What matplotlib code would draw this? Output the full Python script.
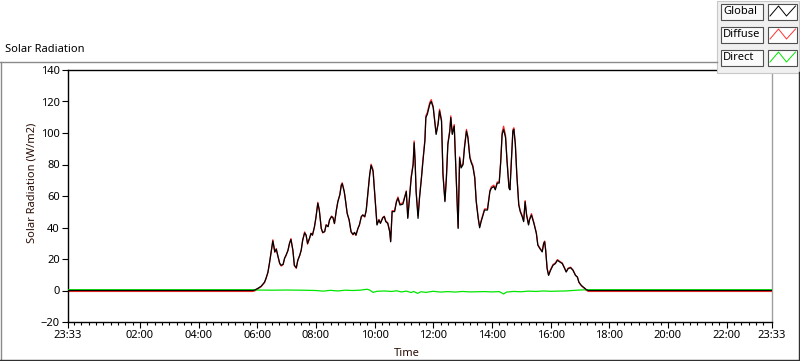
import matplotlib
matplotlib.use('Agg')
import matplotlib.pyplot as plt
from matplotlib.patches import Rectangle
import numpy as np

plt.rcParams['font.family'] = ['Noto Sans', 'DejaVu Sans']

# record runs from 23:33 the previous evening to 23:33
t_start = -27 / 60.0
t_end = 23 + 33 / 60.0

# daytime samples (HH:MM)
times = [
    "05:51", "05:55", "06:02", "06:08", "06:15", "06:18", "06:22", "06:25",
    "06:29", "06:32", "06:36", "06:39", "06:42", "06:46", "06:49", "06:53",
    "06:56", "06:59", "07:03", "07:06", "07:09", "07:13", "07:16", "07:20",
    "07:23", "07:27", "07:30", "07:33", "07:37", "07:40", "07:43", "07:47",
    "07:50", "07:53", "07:57", "08:00", "08:04", "08:07", "08:11", "08:14",
    "08:18", "08:21", "08:25", "08:28", "08:32", "08:35", "08:38", "08:42",
    "08:45", "08:49", "08:52", "08:54", "08:58", "09:00", "09:04", "09:08",
    "09:12", "09:16", "09:19", "09:22", "09:26", "09:29", "09:33", "09:36",
    "09:40", "09:43", "09:46", "09:50", "09:53", "09:57", "10:00", "10:02",
    "10:05", "10:09", "10:12", "10:17", "10:20", "10:23", "10:27", "10:31",
    "10:33", "10:36", "10:41", "10:45", "10:48", "10:52", "10:58", "11:05",
    "11:08", "11:12", "11:15", "11:19", "11:21", "11:23", "11:25", "11:29",
    "11:32", "11:36", "11:39", "11:43", "11:45", "11:48", "11:53", "11:56",
    "12:00", "12:03", "12:06", "12:10", "12:13", "12:17", "12:20", "12:24",
    "12:27", "12:30", "12:34", "12:36", "12:39", "12:43", "12:47", "12:51",
    "12:54", "12:57", "13:01", "13:04", "13:08", "13:11", "13:15", "13:18",
    "13:21", "13:25", "13:28", "13:32", "13:35", "13:38", "13:42", "13:45",
    "13:51", "13:56", "13:59", "14:04", "14:07", "14:11", "14:15", "14:18",
    "14:21", "14:24", "14:28", "14:31", "14:35", "14:37", "14:40", "14:43",
    "14:45", "14:48", "14:51", "14:55", "14:58", "15:02", "15:05", "15:08",
    "15:11", "15:15", "15:17", "15:21", "15:26", "15:31", "15:34", "15:38",
    "15:43", "15:46", "15:48", "15:50", "15:53", "15:56", "16:00", "16:05",
    "16:10", "16:14", "16:19", "16:24", "16:29", "16:32", "16:36", "16:41",
    "16:46", "16:51", "16:55", "16:58", "17:03", "17:09", "17:13", "17:17",
]

global_rad = [
    0.0, 0.3, 1.5, 2.7, 5.3, 7.7, 11.7, 17.3,
    25.6, 31.5, 24.5, 26.2, 22.4, 17.3, 16.0, 16.6,
    20.5, 22.4, 25.6, 29.9, 32.4, 25.6, 16.0, 14.5,
    19.2, 22.4, 25.6, 32.0, 36.6, 35.2, 29.9, 33.2,
    36.2, 35.2, 40.3, 46.0, 55.4, 51.1, 39.4, 36.9,
    37.3, 41.6, 40.5, 44.8, 46.9, 46.2, 42.6, 51.1,
    56.4, 60.7, 66.7, 67.8, 62.8, 58.6, 49.0, 44.8,
    37.3, 35.6, 36.9, 35.2, 39.4, 41.6, 46.9, 47.9,
    46.9, 51.1, 60.7, 73.5, 79.5, 75.6, 62.8, 54.3,
    41.6, 44.8, 42.6, 46.2, 46.9, 43.7, 42.6, 37.3,
    30.9, 50.1, 50.1, 56.4, 58.6, 54.3, 54.8, 62.8,
    45.8, 60.7, 71.4, 79.9, 93.8, 82.0, 62.8, 45.8,
    58.6, 71.4, 82.0, 94.8, 109.8, 111.9, 118.3, 120.0,
    116.2, 107.6, 99.1, 105.5, 114.0, 107.6, 73.5, 56.4,
    71.4, 92.7, 101.2, 109.8, 99.1, 104.4, 71.4, 39.4,
    84.2, 77.8, 79.9, 90.6, 101.2, 97.0, 84.2, 81.0,
    78.8, 71.4, 56.4, 45.8, 39.8, 43.7, 47.9, 51.1,
    51.1, 62.8, 65.0, 66.0, 63.9, 68.2, 68.2, 81.0,
    99.1, 102.3, 97.0, 82.0, 65.0, 63.9, 82.0, 101.2,
    102.3, 92.7, 73.5, 54.3, 50.1, 46.9, 43.7, 56.4,
    47.9, 41.6, 44.8, 47.9, 42.6, 36.2, 28.8, 26.7,
    24.5, 29.9, 30.9, 25.6, 13.9, 9.6, 12.8, 16.0,
    17.1, 19.2, 18.1, 17.1, 13.9, 11.7, 13.9, 14.5,
    12.8, 9.6, 8.5, 5.3, 3.2, 1.7, 0.6, 0.0,
]

diffuse_rad = [
    -0.6, -0.3, 1.2, 2.4, 5.0, 7.5, 11.4, 17.0,
    25.4, 32.2, 24.3, 26.6, 22.1, 17.0, 15.5, 16.4,
    20.3, 22.2, 25.4, 29.7, 33.0, 25.4, 15.8, 14.0,
    19.0, 22.2, 25.4, 31.8, 37.2, 35.0, 29.4, 33.0,
    36.4, 35.0, 40.1, 46.0, 56.0, 51.2, 39.6, 36.5,
    37.6, 41.8, 40.8, 44.9, 47.3, 46.4, 42.4, 51.2,
    56.6, 60.9, 67.2, 68.4, 62.9, 58.6, 49.1, 44.9,
    37.2, 35.3, 36.8, 35.0, 39.3, 41.5, 46.9, 48.1,
    46.6, 50.6, 60.1, 73.0, 80.2, 76.8, 63.4, 54.8,
    42.1, 45.1, 43.0, 46.5, 47.2, 44.2, 43.1, 37.9,
    31.5, 50.7, 50.6, 57.0, 59.4, 55.0, 55.7, 63.3,
    46.5, 61.5, 72.7, 80.8, 95.0, 82.8, 63.6, 47.6,
    59.6, 72.3, 83.1, 96.0, 111.0, 113.1, 119.5, 121.2,
    116.9, 108.4, 99.9, 106.3, 115.1, 108.4, 74.3, 57.1,
    72.1, 93.6, 102.1, 110.9, 99.9, 105.4, 72.2, 40.0,
    84.9, 78.6, 80.6, 91.5, 102.3, 97.8, 85.0, 81.8,
    79.6, 72.2, 57.2, 46.6, 40.5, 44.4, 48.6, 51.8,
    51.8, 63.6, 65.9, 66.9, 64.6, 68.9, 68.9, 81.9,
    100.6, 104.3, 98.6, 83.2, 65.8, 64.6, 82.8, 102.3,
    103.3, 93.5, 74.2, 55.0, 50.8, 47.6, 44.4, 57.1,
    48.4, 42.0, 45.5, 48.8, 43.1, 36.7, 29.2, 27.1,
    24.9, 30.3, 31.4, 26.0, 14.3, 10.0, 13.3, 16.5,
    17.6, 19.6, 18.5, 17.5, 14.2, 12.0, 14.2, 14.8,
    13.0, 9.8, 8.5, 5.2, 3.0, 1.4, 0.2, -0.6,
]
night_global = 0.0
night_diffuse = -0.6

direct_times = [
    "05:51", "06:00", "06:30", "07:00", "07:30", "08:00", "08:15", "08:30",
    "08:45", "09:00", "09:15", "09:30", "09:45", "09:50", "09:57", "10:05",
    "10:20", "10:35", "10:45", "10:55", "11:05", "11:15", "11:20", "11:28",
    "11:35", "11:45", "12:00", "12:15", "12:30", "12:45", "13:00", "13:15",
    "13:30", "13:45", "14:00", "14:15", "14:24", "14:30", "14:45", "15:00",
    "15:15", "15:30", "15:45", "16:00", "16:30", "17:00", "17:17",
]
direct_rad = [
    0.5, 0.3, 0.2, 0.3, 0.2, 0.0, -0.4, 0.1,
    -0.3, 0.2, 0.0, 0.2, 0.8, 0.3, -1.2, -0.5,
    -0.3, -0.6, -0.2, -0.9, -0.4, -1.3, -0.6, -1.8,
    -0.8, -1.2, -0.5, -1.0, -0.7, -1.0, -0.6, -0.9,
    -0.8, -0.7, -0.9, -0.7, -2.2, -1.0, -0.6, -0.8,
    -0.4, -0.6, -0.3, -0.5, -0.3, 0.3, 0.5,
]
night_direct = 0.5

major_hours = [2, 4, 6, 8, 10, 12, 14, 16, 18, 20, 22]
major_labels = ['02:00', '04:00', '06:00', '08:00', '10:00', '12:00',
                '14:00', '16:00', '18:00', '20:00', '22:00']
y_ticks = [-20, 0, 20, 40, 60, 80, 100, 120, 140]


def hours(s):
    h, m = s.split(':')
    return int(h) + int(m) / 60.0


t_day = [hours(s) for s in times]
t_all = [t_start] + t_day + [t_end]
g_all = [night_global] + global_rad + [night_global]
d_all = [night_diffuse] + diffuse_rad + [night_diffuse]
td_all = [t_start] + [hours(s) for s in direct_times] + [t_end]
dr_all = [night_direct] + direct_rad + [night_direct]

W, H = 800, 361
fig = plt.figure(figsize=(W / 100, H / 100), dpi=100)
fig.patch.set_facecolor('white')

ax = fig.add_axes([68 / W, 1 - 322 / H, (772 - 68) / W, (322 - 70) / H])
ax.plot(t_all, d_all, color='#ff2a2a', lw=0.9, zorder=2)
ax.plot(td_all, dr_all, color='#00e600', lw=0.9, zorder=3)
ax.plot(t_all, g_all, color='black', lw=0.9, zorder=4)

ax.set_xlim(t_start, t_end)
ax.set_ylim(-20, 140)
ax.set_xticks([t_start] + major_hours + [t_end])
ax.set_xticklabels(['23:33'] + major_labels + ['23:33'])
ax.set_xticks(np.arange(-0.25, 23.5, 0.25), minor=True)
ax.set_yticks(y_ticks)
ax.tick_params(axis='both', which='major', direction='out', length=4,
               width=0.8, labelsize=8, colors='black', pad=2)
ax.tick_params(axis='x', which='minor', direction='out', length=2.5, width=0.8)
for sp in ['left', 'bottom', 'top']:
    ax.spines[sp].set_color('black')
    ax.spines[sp].set_linewidth(1.0)
ax.spines['right'].set_color('#a0a0a0')
ax.spines['right'].set_linewidth(1.0)

fig.text(32 / W, 1 - 183 / H, 'Solar Radiation (W/m2)', rotation=90,
         ha='center', va='center', fontsize=8, color='#2a0d05')
fig.text(407 / W, 1 - 354 / H, 'Time', ha='center', va='center',
         fontsize=8, color='#2a0d05')
fig.text(5 / W, 1 - 50 / H, 'Solar Radiation', ha='left', va='center',
         fontsize=8, color='black')

# panel frame and legend in pixel coordinates
ov = fig.add_axes([0, 0, 1, 1], zorder=10)
ov.set_xlim(0, W)
ov.set_ylim(H, 0)
ov.axis('off')
ov.plot([0, 717], [61.5, 61.5], color='#8a8a8a', lw=1.0)
ov.plot([0.5, 0.5], [61.5, 359.5], color='#8a8a8a', lw=1.0)
ov.plot([0, 800], [359.5, 359.5], color='#303030', lw=1.0)
ov.plot([798.5, 798.5], [72, 359.5], color='#303030', lw=1.0)

ov.add_patch(Rectangle((717, 0.5), 82, 72, facecolor='#f0f0f0',
                       edgecolor='#c8c8c8', lw=0.8))
names = ['Global', 'Diffuse', 'Direct']
colors = ['black', '#ff3333', '#00e600']
for i, (name, c) in enumerate(zip(names, colors)):
    top = 3.5 + 23 * i
    ov.add_patch(Rectangle((721, top), 42, 16, facecolor='#fafafa',
                           edgecolor='#505050', lw=0.8))
    ov.text(723, top + 8.3, name, ha='left', va='center', fontsize=8,
            color='black')
    ov.add_patch(Rectangle((768, top), 29, 16, facecolor='white',
                           edgecolor='#505050', lw=0.8))
    ov.plot([770, 778.5, 786.5, 795.5],
            [top + 12.5, top + 2.5, top + 12.5, top + 2.5], color=c, lw=0.7)

fig.savefig('out.png', dpi=100, facecolor='white')
